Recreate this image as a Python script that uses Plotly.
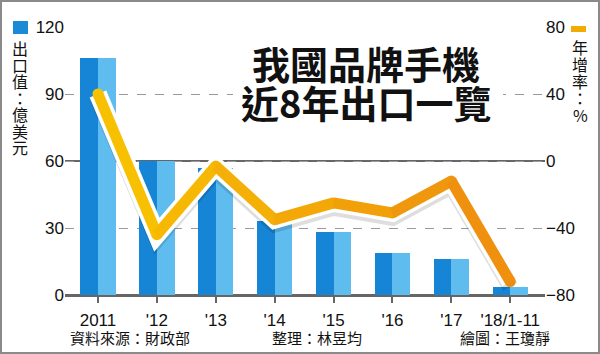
import plotly.graph_objects as go

categories = ["2011", "'12", "'13", "'14", "'15", "'16", "'17", "'18/1-11"]
export_value = [106, 60, 57, 33, 28, 19, 16, 3.5]      # 億美元
growth_rate = [40, -44, -3, -35, -25, -31, -12, -72]    # %
left_ticks = [0, 30, 60, 90, 120]
right_ticks = [-80, -40, 0, 40, 80]

W, H = 600, 354
ML, MR, MT, MB = 65, 55, 27, 59
PW, PH = W - ML - MR, H - MT - MB


def px(x):
    return (x - ML) / PW


def py(y):
    return (H - MB - y) / PH


CJK = "Noto Sans CJK TC"
LAT = "Liberation Sans"

xs = list(range(len(categories)))
fig = go.Figure()

# bars: two-tone halves
fig.add_trace(go.Bar(x=xs, y=export_value, width=0.3, offset=-0.3,
                     marker=dict(color="#1685d5", line=dict(width=0)), yaxis="y"))
fig.add_trace(go.Bar(x=xs, y=export_value, width=0.3, offset=0.0,
                     marker=dict(color="#5ebdee", line=dict(width=0)), yaxis="y"))

# soft shadow under the line (same data, hidden axis shifted a few pixels down)
fig.add_trace(go.Scatter(x=xs, y=growth_rate, mode="lines", yaxis="y2",
                         line=dict(color="rgba(0,0,0,0.13)", width=16)))
# line white outline
fig.add_trace(go.Scatter(x=xs, y=growth_rate, mode="lines", yaxis="y3",
                         line=dict(color="white", width=18)))


def lerp(c1, c2, t):
    return "rgb(%d,%d,%d)" % tuple(int(round(a + (b - a) * t)) for a, b in zip(c1, c2))


c_start, c_end = (248, 196, 0), (238, 140, 16)
n = len(xs)
seg_colors = [lerp(c_start, c_end, (i + 0.5) / (n - 1)) for i in range(n - 1)]
pt_colors = [lerp(c_start, c_end, i / (n - 1)) for i in range(n)]
fig.add_trace(go.Scatter(x=xs, y=growth_rate, mode="markers", yaxis="y3",
                         marker=dict(color=pt_colors, size=11, line=dict(width=0))))
for i in range(n - 1):
    fig.add_trace(go.Scatter(x=xs[i:i + 2], y=growth_rate[i:i + 2], mode="lines",
                             yaxis="y3", line=dict(color=seg_colors[i], width=11)))

shapes = [
    # solid 60 line
    dict(type="line", xref="paper", yref="y", x0=0, x1=1, y0=60, y1=60,
         line=dict(color="#666666", width=2), layer="below"),
    # white box behind title
    dict(type="rect", xref="paper", yref="paper", x0=px(233), x1=px(503), y0=py(124), y1=py(36),
         fillcolor="white", line=dict(width=0), layer="above"),
    # legend icons
    dict(type="rect", xref="paper", yref="paper", x0=px(13), x1=px(28), y0=py(34), y1=py(21),
         fillcolor="#1a8ad6", line=dict(width=0)),
    dict(type="rect", xref="paper", yref="paper", x0=px(571), x1=px(586), y0=py(32), y1=py(26),
         fillcolor="#f2ab00", line=dict(width=0)),
    # frame
    dict(type="rect", xref="paper", yref="paper", x0=px(1), x1=px(599), y0=py(353), y1=py(1),
         line=dict(color="#8a8a8a", width=2)),
]


def ann(text, x, y, size, xanchor="center", bold=False):
    return dict(text=("<b>%s</b>" % text) if bold else text, x=px(x), y=py(y),
                xref="paper", yref="paper", xanchor=xanchor, yanchor="middle",
                showarrow=False, font=dict(family=CJK, size=size, color="#111"))


annotations = [
    ann("我國品牌手機", 366, 62, 38, bold=True),
    ann("近8年出口一覽", 366, 101, 38, bold=True),
]
for i, ch in enumerate("出口值：億美元"):
    annotations.append(ann(ch, 20, 48 + i * 16.5, 16))
for i, ch in enumerate("年增率：%"):
    annotations.append(ann(ch, 580, 47 + i * 17, 16))
for txt, x0 in [("資料來源：財政部", 68), ("整理：林昱均", 270), ("繪圖：王瓊靜", 458)]:
    annotations.append(ann(txt, x0, 337, 15, xanchor="left"))

fig.update_layout(
    width=W, height=H, margin=dict(l=ML, r=MR, t=MT, b=MB),
    paper_bgcolor="white", plot_bgcolor="white", showlegend=False,
    barmode="overlay", bargap=0,
    xaxis=dict(tickmode="array", tickvals=xs, ticktext=categories, range=[-0.56, 7.59],
               showgrid=False, zeroline=False, showline=False,
               ticks="outside", ticklen=7, tickwidth=2, tickcolor="#666",
               ticklabelstandoff=3,
               tickfont=dict(family=LAT, size=17, color="#111")),
    yaxis=dict(range=[0, 120], tickmode="array", tickvals=left_ticks,
               showgrid=True, gridcolor="#9a9a9a", griddash="dash", gridwidth=1,
               zeroline=True, zerolinecolor="#666", zerolinewidth=3,
               tickfont=dict(family=LAT, size=17, color="#111"), ticks=""),
    yaxis2=dict(range=[-77, 83], overlaying="y", visible=False, showgrid=False,
                zeroline=False),
    yaxis3=dict(range=[-80, 80], overlaying="y", side="right", tickmode="array",
                tickvals=right_ticks, showgrid=False, zeroline=False,
                tickfont=dict(family=LAT, size=17, color="#111"), ticks=""),
    shapes=shapes, annotations=annotations,
)

fig.write_html("out.html")
